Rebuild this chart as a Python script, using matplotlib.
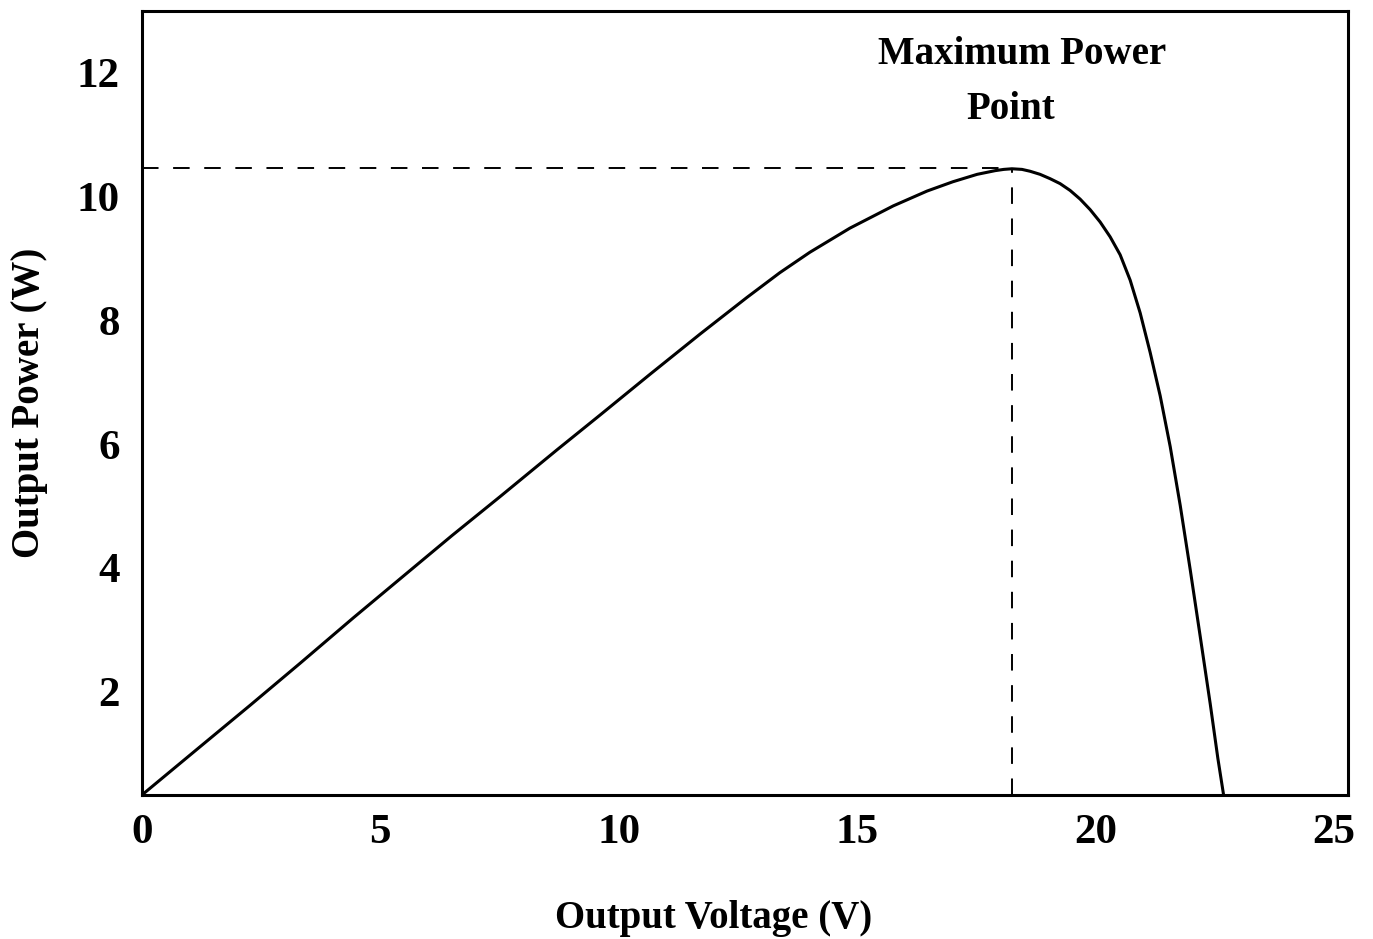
import matplotlib
matplotlib.use("Agg")
import matplotlib.pyplot as plt

# ---- data ----
voltage = [0.00, 1.22, 2.27, 3.32, 4.43, 5.41, 6.50, 7.51, 8.71, 9.61,
           10.66, 11.71, 12.69, 13.38, 14.01, 14.85, 15.76, 16.47, 17.01, 17.52,
           17.90, 18.08, 18.25, 18.46, 18.63, 18.84, 19.05, 19.26, 19.47, 19.68,
           19.89, 20.10, 20.31, 20.52, 20.73, 20.94, 21.15, 21.36, 21.57, 21.78,
           21.99, 22.20, 22.41, 22.57, 22.69]
power = [0.33, 1.11, 1.78, 2.46, 3.19, 3.82, 4.52, 5.15, 5.91, 6.47,
         7.13, 7.78, 8.37, 8.77, 9.10, 9.49, 9.85, 10.09, 10.24, 10.36,
         10.42, 10.44, 10.45, 10.44, 10.41, 10.36, 10.29, 10.21, 10.10, 9.96,
         9.79, 9.59, 9.35, 9.06, 8.65, 8.12, 7.48, 6.78, 5.96, 5.01,
         3.97, 2.89, 1.80, 0.92, 0.33]

mpp_voltage = 18.25
mpp_power = 10.46

x_ticks = [0, 5, 10, 15, 20, 25]
y_ticks = [2, 4, 6, 8, 10, 12]
x_label = "Output Voltage (V)"
y_label = "Output Power (W)"
annot_line1 = "Maximum Power"
annot_line2 = "Point"

# ---- figure ----
plt.rcParams['font.family'] = ['Liberation Serif', 'DejaVu Serif']
plt.rcParams['font.weight'] = 'bold'

fig = plt.figure(figsize=(13.73, 9.39), dpi=100)
ax = fig.add_axes([0.1034, 0.1534, 0.8784, 0.8349])

xmin, xmax = 0.0, 25.3
ymin, ymax = 0.33, 13.0

ax.plot(voltage, power, color='black', lw=2.2, solid_joinstyle='round',
        solid_capstyle='butt', zorder=3)
ax.plot([xmin, mpp_voltage], [mpp_power, mpp_power], color='black', lw=1.4,
        dashes=(8.5, 7.5), zorder=2)
ax.plot([mpp_voltage, mpp_voltage], [ymin, mpp_power], color='black', lw=1.4,
        dashes=(8.5, 7.5), zorder=2)

ax.set_xlim(xmin, xmax)
ax.set_ylim(ymin, ymax)
ax.set_xticks(x_ticks)
ax.set_yticks(y_ticks)
ax.set_xticklabels([str(t) for t in x_ticks])
ax.set_yticklabels([str(t) for t in y_ticks])
ax.tick_params(axis='both', length=0, labelsize=31)
ax.tick_params(axis='x', pad=14)
ax.tick_params(axis='y', pad=16)
for lab in ax.get_xticklabels() + ax.get_yticklabels():
    lab.set_fontweight('bold')

for sp in ax.spines.values():
    sp.set_linewidth(2.2)
    sp.set_color('black')

ax.set_xlabel(x_label, fontsize=28, fontweight='bold', va='center')
ax.set_ylabel(y_label, fontsize=28, fontweight='bold', va='center')
ax.xaxis.set_label_coords(0.474, -0.158)
ax.yaxis.set_label_coords(-0.093, 0.50)

ax.text(18.46, 12.29, annot_line1, fontsize=28, fontweight='bold',
        ha='center', va='center')
ax.text(18.23, 11.40, annot_line2, fontsize=28, fontweight='bold',
        ha='center', va='center')

fig.savefig("out.png", dpi=100)
